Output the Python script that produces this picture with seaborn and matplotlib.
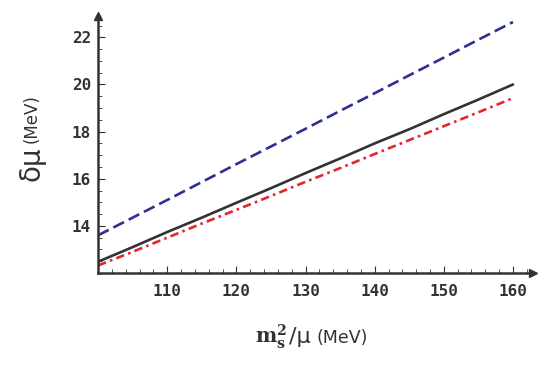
import numpy as np
import pandas as pd
import matplotlib
matplotlib.use("Agg")
import matplotlib.pyplot as plt
from matplotlib.ticker import MultipleLocator
import seaborn as sns

# m_s^2 / mu (MeV)
ms2_over_mu = [100, 105, 110, 115, 120, 125, 130, 135, 140, 145, 150, 155, 160]
# delta mu (MeV) for the three curves
upper_dashed = [13.60, 14.35, 15.10, 15.86, 16.62, 17.37, 18.12, 18.88, 19.63, 20.39, 21.14, 21.90, 22.65]
middle_solid = [12.48, 13.10, 13.74, 14.35, 14.98, 15.60, 16.24, 16.86, 17.50, 18.10, 18.74, 19.36, 20.00]
lower_dashdot = [12.32, 12.90, 13.50, 14.10, 14.68, 15.27, 15.87, 16.45, 17.05, 17.64, 18.23, 18.82, 19.42]

x_ticks = [110, 120, 130, 140, 150, 160]
y_ticks = [14, 16, 18, 20, 22]

df = pd.DataFrame({
    "x": ms2_over_mu * 3,
    "y": upper_dashed + middle_solid + lower_dashdot,
    "curve": ["upper"] * 13 + ["middle"] * 13 + ["lower"] * 13,
})

sns.set_style("ticks")
plt.rcParams["mathtext.fontset"] = "dejavuserif"
axis_col = "#333333"

fig = plt.figure(figsize=(5.45, 3.84), dpi=100)
ax = fig.add_axes([0.18, 0.289, 0.798, 0.669])

palette = {"upper": "#2e3192", "middle": "#333333", "lower": "#e3262e"}
dashes = {"upper": (4.5, 2.0), "middle": "", "lower": (3.2, 1.6, 1.0, 1.6)}
sns.lineplot(data=df, x="x", y="y", hue="curve", style="curve",
             palette=palette, dashes=dashes, linewidth=1.9,
             legend=False, ax=ax)

ax.set_xlim(100, 162.9)
ax.set_ylim(12, 22.9)
ax.set_xticks(x_ticks)
ax.set_yticks(y_ticks)
ax.xaxis.set_minor_locator(MultipleLocator(2))
ax.yaxis.set_minor_locator(MultipleLocator(0.5))

for side in ["top", "right"]:
    ax.spines[side].set_visible(False)
for side in ["left", "bottom"]:
    ax.spines[side].set_color(axis_col)
    ax.spines[side].set_linewidth(1.8)

ax.tick_params(which="major", direction="in", length=5, width=0.8, color=axis_col,
               labelcolor=axis_col, pad=5)
ax.tick_params(which="minor", direction="in", length=3, width=0.6, color=axis_col)
for lab in ax.get_xticklabels() + ax.get_yticklabels():
    lab.set_fontfamily("DejaVu Sans Mono")
    lab.set_fontweight("bold")
    lab.set_fontsize(11.5)
ax.tick_params(axis="x", pad=8)

# arrow heads on the axes
ax.plot(1, 0, ">", color=axis_col, markersize=6, transform=ax.transAxes, clip_on=False)
ax.plot(0, 1, "^", color=axis_col, markersize=6, transform=ax.transAxes, clip_on=False)

ax.set_xlabel("")
ax.set_ylabel("")

# axis labels
fig.text(0.058, 1 - 181 / 384, "δμ", rotation=90, fontsize=20,
         ha="left", va="center", rotation_mode="anchor", color=axis_col)
fig.text(0.058, 1 - 143 / 384, "(MeV)", rotation=90, fontsize=12,
         ha="left", va="center", rotation_mode="anchor", color=axis_col)

fig.text(255 / 545, 1 - 343 / 384, r"$\mathbf{m}_{\mathbf{s}}^{\mathbf{2}}$", fontsize=14.5,
         ha="left", va="baseline", color=axis_col)
fig.text(289 / 545, 1 - 343 / 384, "/μ", fontsize=16,
         ha="left", va="baseline", color=axis_col)
fig.text(316 / 545, 1 - 343 / 384, "(MeV)", fontsize=12.5,
         ha="left", va="baseline", color=axis_col)

plt.savefig("out.png", dpi=100)
plt.close()
